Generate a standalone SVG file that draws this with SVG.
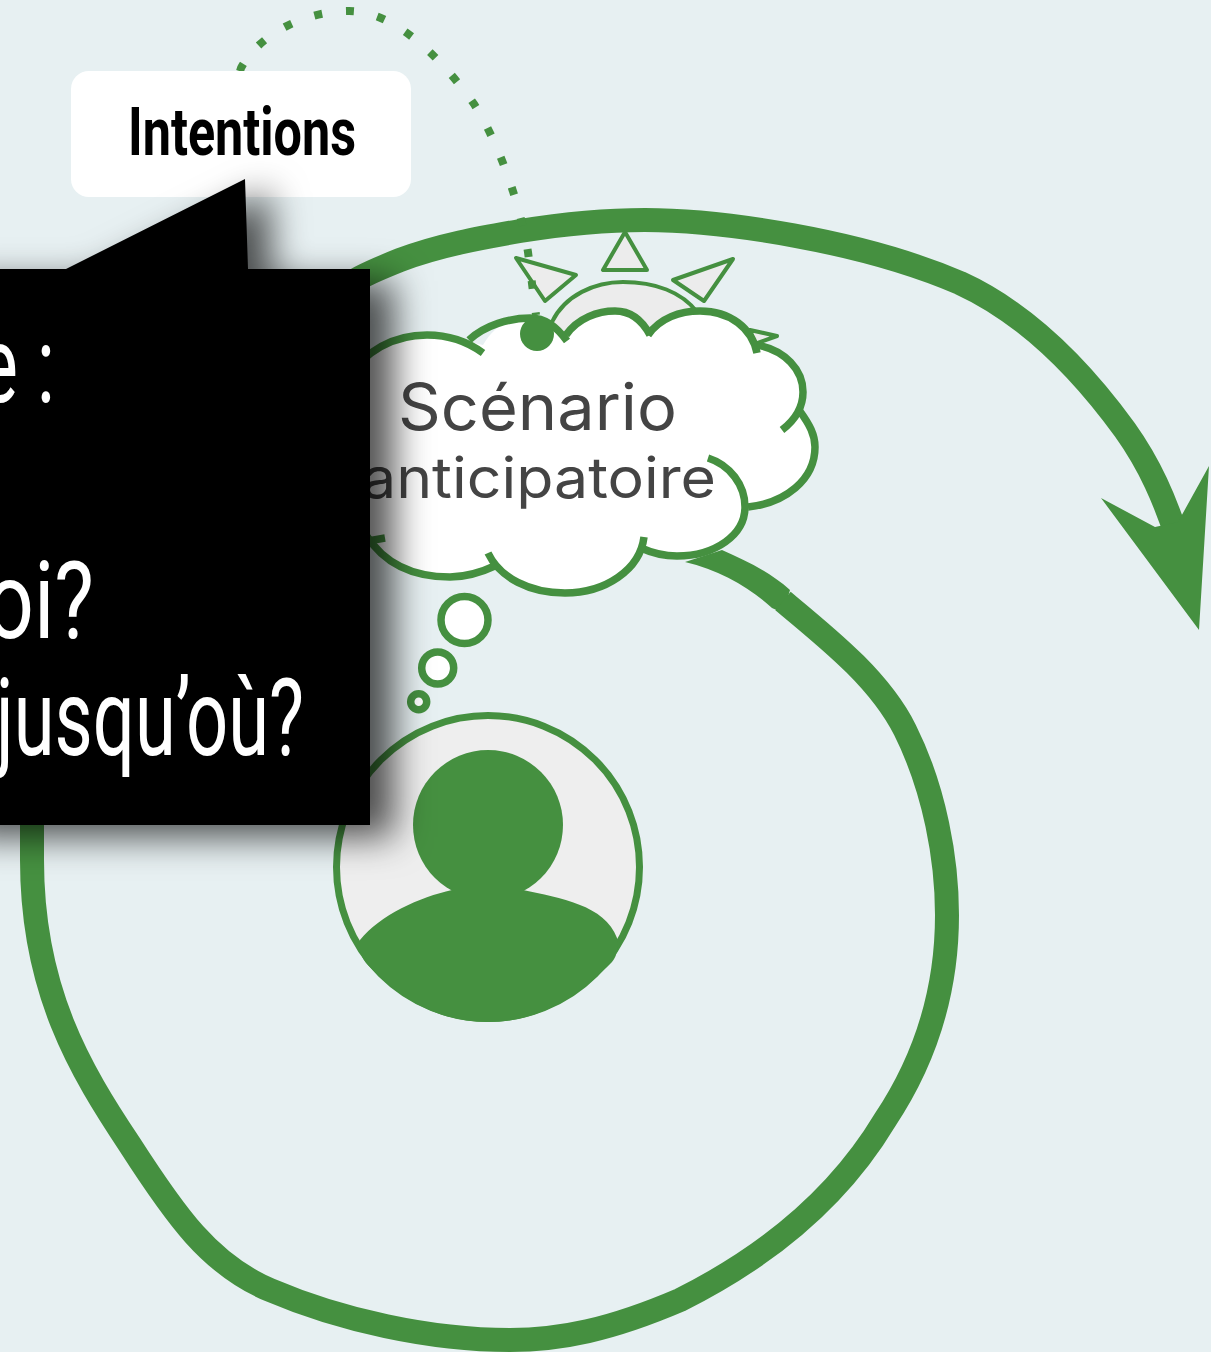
<svg xmlns="http://www.w3.org/2000/svg" width="1211" height="1352" viewBox="0 0 1211 1352">
<style>
.thick{fill:none;stroke:#459040;stroke-width:24}
.arc{fill:none;stroke:#459040;stroke-width:7.5}
.ray{fill:#ececec;stroke:#459040;stroke-width:4;stroke-linejoin:round}
.bub{fill:#fff;stroke:#459040;stroke-width:7.5}
.cl{font-family:"Inter","Open Sans",sans-serif;fill:#444;font-weight:400}
.wt{font-family:"Roboto","Liberation Sans",sans-serif;font-weight:400;fill:#fff;font-size:108px}
</style>
<defs>
<filter id="sh" filterUnits="userSpaceOnUse" x="-100" y="100" width="700" height="900">
<feDropShadow dx="24" dy="12" stdDeviation="18" flood-color="#000" flood-opacity="0.68"/>
</filter>
</defs>
<rect width="1211" height="1352" fill="#e7f0f2"/>
<g id="connectors">
<path class="thick" d="M320,305 C350,280 370,272 400,260 C440,245 480,238 520,231 C570,223 610,220 645,220 C720,220 860,240 960,283 C1030,315 1085,375 1125,430 C1150,465 1165,500 1178,540"/>
<polygon fill="#459040" points="1101,498 1155,527 1178,522 1209,466 1199,630"/>
<path fill="#459040" d="M685,562 C720,570 750,588 772,608 L783,613 L790,590 C770,572 745,560 722,550 Z"/>
<path class="thick" d="M783,601 C830,640 880,680 905,730 C935,790 947,860 947,915 C947,990 925,1060 885,1120 C840,1195 770,1255 680,1300 C610,1330 560,1340 510,1340 C430,1340 340,1320 270,1290 C210,1265 175,1215 130,1145 C80,1070 32,990 32,860 L32,800"/>
</g>
<g id="rays">
<path class="ray" d="M552,322 C565,295 595,282 623,282 C655,282 682,292 697,312 L700,345 L548,345 Z"/>
<polygon class="ray" points="625,232 603,270 647,270"/>
<polygon class="ray" points="516,258 576,275 545,301"/>
<polygon class="ray" points="733,259 673,280 704,301"/>
<polygon class="ray" points="750,330 777,336 755,344"/>
</g>
<g id="cloud">
<path fill="#fff" d="M345,380 C370,345 400,335 427,335 C448,335 468,342 483,345 C495,325 510,318 530,318 C545,318 556,326 566,335 C578,318 598,311 615,311 C630,311 642,320 650,335 C660,318 680,311 700,311 C730,311 752,328 757,345 C785,350 803,370 803,392 C803,400 800,405 800,412 C810,425 815,435 815,447 C815,480 785,503 748,507 L745,507 C745,535 715,556 677,556 C665,556 652,553 641,548 C630,575 605,593 565,593 C530,593 510,578 497,565 C480,573 465,577 450,577 C415,577 385,565 360,530 Z"/>
<path class="arc" d="M345,380 C370,345 400,335 427,335 C448,335 468,342 483,353"/>
<path class="arc" d="M469,340 C485,325 510,318 530,318 C545,318 556,326 567,341"/>
<path class="arc" d="M566,335 C578,318 598,311 615,311 C630,311 642,320 650,335"/>
<path class="arc" d="M648,335 C660,318 680,311 700,311 C730,311 752,328 757,353"/>
<path class="arc" d="M757,345 C785,350 803,370 803,392 C803,408 795,420 782,430"/>
<path class="arc" d="M799,410 C810,425 815,435 815,447 C815,480 785,503 748,507"/>
<path class="arc" d="M708,458 C730,465 745,485 745,507 C745,535 715,556 677,556 C665,556 652,553 641,548"/>
<path class="arc" d="M644,537 C640,570 605,593 565,593 C530,593 500,578 488,553"/>
<path class="arc" d="M497,565 C480,573 465,577 450,577 C415,577 385,565 366,535"/>
<path class="arc" d="M385,538 L368,541"/>
<text class="cl" x="398" y="430" font-size="64" textLength="279" lengthAdjust="spacingAndGlyphs">Scénario</text>
<text class="cl" x="362" y="498" font-size="56" textLength="354" lengthAdjust="spacingAndGlyphs">anticipatoire</text>
</g>
<g id="dotted-connector">
<path fill="none" stroke="#459040" stroke-width="8" pathLength="16.5" stroke-dasharray="0.25 0.75" stroke-dashoffset="-0.42" d="M236,84 L241,68 C262,30 310,11 349,11 C400,11 450,70 474,104 C500,145 520,205 528,252 L536,315"/>
<circle cx="537" cy="334" r="17" fill="#459040"/>
</g>
<g id="bubbles">
<circle class="bub" cx="464.500" cy="620" r="23.500"/>
<circle class="bub" cx="437.700" cy="668" r="16"/>
<circle class="bub" cx="418.700" cy="701.700" r="8"/>
</g>
<g id="person">
<circle cx="488" cy="867" r="151.500" fill="#eee" stroke="#459040" stroke-width="7"/>
<circle cx="488" cy="825" r="75" fill="#459040"/>
<path fill="#459040" d="M452,890 C420,897 380,915 360,940 C358,950 362,958 366,963 C400,1000 440,1022 488,1022 C540,1022 580,995 612,962 C618,955 618,945 617,938 C605,905 560,898 523,890 Z"/>
</g>
<g id="intentions">
<rect x="71" y="71" width="340" height="126" rx="18" fill="#fff"/>
<text x="128" y="155" font-family="Roboto,'Liberation Sans',sans-serif" font-weight="700" font-size="67" textLength="228" lengthAdjust="spacingAndGlyphs" fill="#000">Intentions</text>
</g>
<g id="callout">
<polygon points="-60,269 66,269 245,179 248,269 370,269 370,825 -60,825" fill="#000" filter="url(#sh)"/>
<text class="wt" x="-22" y="402" textLength="77" lengthAdjust="spacingAndGlyphs">e :</text>
<text class="wt" x="-14" y="638" textLength="108" lengthAdjust="spacingAndGlyphs">oi?</text>
<text class="wt" x="-4" y="755" textLength="308" lengthAdjust="spacingAndGlyphs">jusqu’où?</text>
</g>
</svg>
